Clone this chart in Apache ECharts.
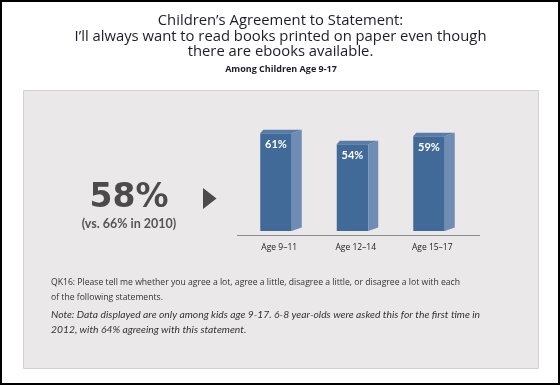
<!DOCTYPE html>
<html>
<head>
<meta charset="utf-8">
<script src="https://cdn.jsdelivr.net/npm/echarts@6/dist/echarts.min.js"></script>
<style>
html,body{margin:0;padding:0;background:#fff;}
#c{width:560px;height:385px;}
</style>
</head>
<body>
<div id="c"></div>
<script>
const categories = ['Age 9–11', 'Age 12–14', 'Age 15–17'];
const values = [61, 54, 59];
const valueLabels = ['61%', '54%', '59%'];
const titleLines = ["Children’s Agreement to Statement:", "I’ll always want to read books printed on paper even though", "there are ebooks available."];
const subtitle = 'Among Children Age 9-17';
const bigNumber = '58%';
const bigNumberNote = '(vs. 66% in 2010)';
const questionText = 'QK16: Please tell me whether you agree a lot, agree a little, disagree a little, or disagree a lot with each\nof the following statements.';
const noteText = 'Note: Data displayed are only among kids age 9-17. 6-8 year-olds were asked this for the first time in\n2012, with 64% agreeing with this statement.';

const FONT = 'Lato';
const OS = '"Open Sans"';
const chart = echarts.init(document.getElementById('c'), null, {renderer: 'canvas'});

const frontC = '#416a98', sideC = '#6f8db4', topC = '#5a7ba7';

chart.setOption({
  backgroundColor: '#ffffff',
  animation: false,
  graphic: [
    {type: 'rect', z: -10, shape: {x: 1, y: 1, width: 558, height: 383}, style: {fill: '#fff', stroke: '#000', lineWidth: 2}},
    {type: 'rect', z: -5, shape: {x: 23.5, y: 90.5, width: 515, height: 278}, style: {fill: '#ebe8e9', stroke: '#d2d0d1', lineWidth: 1}},
    {type: 'text', style: {text: titleLines.join('\n'), x: 280.5, y: 13.5, align: 'center', verticalAlign: 'top', font: '14.8px ' + OS, lineHeight: 15.5, fill: '#1c1c2c'}},
    {type: 'text', style: {text: subtitle, x: 281, y: 69.5, align: 'center', verticalAlign: 'middle', font: 'bold 9px ' + OS, fill: '#1c1c2c'}},
    {type: 'text', style: {text: bigNumber, x: 129, y: 198, align: 'center', verticalAlign: 'middle', font: 'bold 33px "DejaVu Sans"', fill: '#4b4b4b'}},
    {type: 'text', style: {text: bigNumberNote, x: 129, y: 223.5, align: 'center', verticalAlign: 'middle', font: 'bold 12.5px ' + FONT, fill: '#555'}},
    {type: 'polygon', shape: {points: [[203, 188], [216.5, 198.5], [203, 209]]}, style: {fill: '#4b4b4b'}},
    {type: 'line', shape: {x1: 237, y1: 235.5, x2: 480, y2: 235.5}, style: {stroke: '#8c8c8c', lineWidth: 1}},
    {type: 'text', style: {text: questionText, x: 51, y: 275, verticalAlign: 'top', font: '8.65px ' + OS, lineHeight: 15, fill: '#333'}},
    {type: 'text', style: {text: noteText, x: 51, y: 307.5, verticalAlign: 'top', font: 'italic 10.3px ' + FONT, lineHeight: 15, fill: '#333'}}
  ],
  grid: {left: 241, right: 560 - 470.5, top: 118.7, bottom: 154, containLabel: false},
  xAxis: {
    type: 'category', data: categories,
    axisLine: {show: false}, axisTick: {show: false},
    axisLabel: {margin: 12, fontSize: 8.5, fontFamily: OS, color: '#222'}
  },
  yAxis: {type: 'value', min: 0, max: 70, show: false, splitLine: {show: false}},
  series: [{
    type: 'custom',
    data: values.map((v, i) => [i, v]),
    renderItem: function (params, api) {
      const top = api.coord([api.value(0), api.value(1)]);
      const base = api.coord([api.value(0), 0]);
      const xL = top[0] - 19, xR = top[0] + 12.5, d = 10, up = 3.5;
      const yT = top[1], yB = base[1];
      return {
        type: 'group',
        children: [
          {type: 'rect', shape: {x: xL, y: yT, width: xR - xL, height: yB - yT}, style: {fill: frontC}},
          {type: 'polygon', shape: {points: [[xR, yT], [xR + d, yT - up], [xR + d, yB - up], [xR, yB]]}, style: {fill: sideC}},
          {type: 'polygon', shape: {points: [[xL, yT], [xL + 3, yT - up], [xR + d, yT - up], [xR, yT]]}, style: {fill: topC}},
          {type: 'text', style: {text: valueLabels[params.dataIndex], x: (xL + xR) / 2, y: yT + 11, align: 'center', verticalAlign: 'middle', font: 'bold 11px ' + FONT, fill: '#fff'}}
        ]
      };
    }
  }]
});
</script>
</body>
</html>
